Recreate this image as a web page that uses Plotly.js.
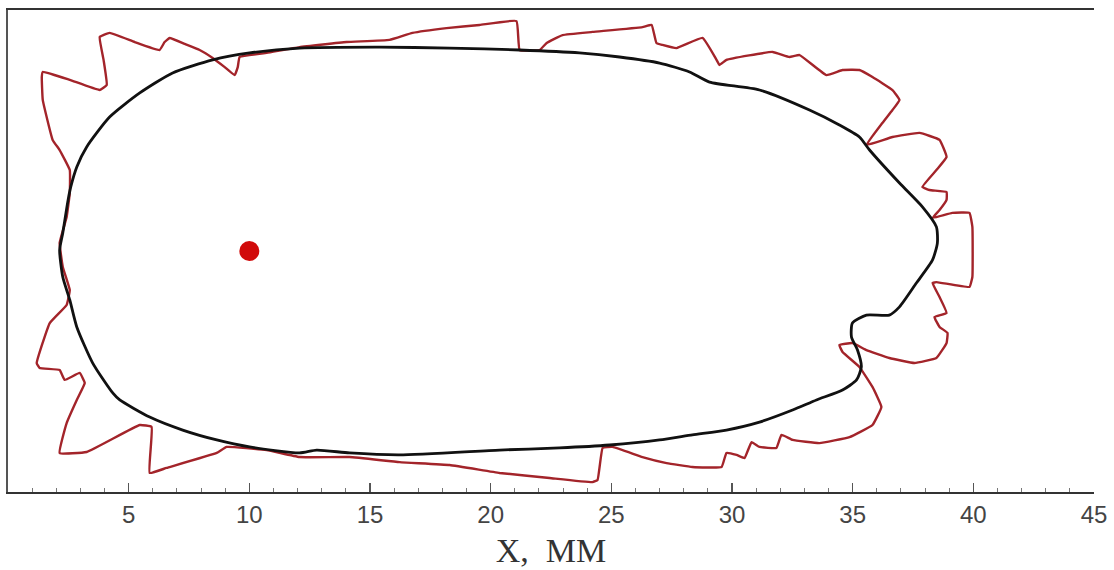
<!DOCTYPE html>
<html>
<head>
<meta charset="utf-8">
<script src="https://cdn.plot.ly/plotly-3.0.1.min.js"></script>
<style>html,body{margin:0;padding:0;background:#fff;}#chart{width:1114px;height:570px;}</style>
</head>
<body>
<div id="chart"></div>
<script>
// Black contour (X, mm ; Y, mm)
const blackX = [2.14,2.27,2.49,2.60,2.85,3.26,4.21,5.46,6.82,8.48,10.01,12.08,15.40,18.30,21.20,23.68,25.34,27.00,28.24,29.07,31.14,33.21,34.45,35.28,35.70,36.94,37.89,38.47,38.51,38.31,37.64,36.94,36.52,35.57,34.99,34.95,35.20,35.36,35.16,34.58,33.50,32.51,31.14,29.77,28.36,27.00,24.93,22.85,20.37,16.23,14.15,12.79,12.08,10.01,8.65,7.24,5.87,4.63,4.34,3.51,2.85,2.56,2.27,2.14];
const blackY = [0.04,0.75,2.12,2.66,3.49,4.32,5.56,6.56,7.39,7.93,8.22,8.42,8.46,8.42,8.34,8.22,8.05,7.80,7.43,7.01,6.68,5.85,5.23,4.73,4.19,2.82,1.83,1.00,0.33,-0.37,-1.33,-2.32,-2.66,-2.66,-2.99,-3.57,-4.11,-4.81,-5.35,-5.77,-6.18,-6.60,-7.10,-7.43,-7.63,-7.84,-8.05,-8.17,-8.26,-8.46,-8.38,-8.26,-8.38,-8.13,-7.84,-7.43,-6.89,-6.18,-5.89,-4.65,-3.15,-2.03,-1.08,0.04];

// Red contour (X, mm ; Y, mm)
const redX = [1.44,2.56,3.80,4.09,3.96,3.80,4.21,5.25,6.28,6.49,6.70,7.32,7.94,8.48,8.98,9.39,9.52,9.60,10.72,12.08,14.03,15.81,16.76,18.17,19.54,21.07,21.20,22.03,22.32,22.98,24.22,26.29,26.67,26.87,27.12,27.70,28.78,29.36,29.48,29.77,31.68,32.38,32.80,33.91,34.58,35.28,35.82,36.65,36.94,36.65,36.23,35.57,36.65,37.77,38.60,38.89,38.47,37.89,38.18,38.89,38.89,38.60,38.31,39.13,39.84,39.96,39.96,39.84,38.47,38.31,38.60,38.89,38.39,38.60,38.93,38.89,38.47,37.56,36.52,35.57,34.99,34.45,34.58,35.28,35.82,36.19,35.82,34.87,33.62,32.51,32.05,31.84,31.14,30.81,30.52,30.19,29.77,29.57,28.36,27.29,26.29,25.05,24.64,24.43,24.22,22.44,20.37,18.30,16.23,14.15,12.08,10.72,9.06,8.65,6.57,5.87,5.95,5.46,3.26,2.14,2.43,2.85,3.18,2.97,2.35,2.14,1.31,1.19,1.73,2.43,2.56,2.27,2.14,2.43,2.56,2.56,2.14,1.85,1.44,1.40,1.44];
const redY = [7.43,7.10,6.68,6.89,7.93,8.88,9.05,8.67,8.34,8.67,8.84,8.59,8.34,8.01,7.63,7.30,7.63,8.05,8.22,8.46,8.67,8.76,9.05,9.25,9.38,9.54,8.34,8.34,8.63,8.96,9.09,9.29,9.38,8.63,8.55,8.42,8.84,7.93,7.72,7.93,8.26,8.05,8.13,7.30,7.51,7.51,7.22,6.68,6.27,5.85,5.31,4.40,4.73,4.90,4.61,3.90,3.36,2.66,2.53,2.45,2.12,1.70,1.37,1.58,1.58,1.00,-1.08,-1.49,-1.29,-1.33,-1.91,-2.57,-2.74,-3.15,-3.40,-3.82,-4.44,-4.65,-4.44,-4.11,-3.82,-3.90,-4.19,-4.81,-5.64,-6.47,-7.22,-7.72,-7.97,-7.84,-7.63,-8.17,-8.13,-7.93,-8.59,-8.46,-8.38,-8.96,-8.96,-8.80,-8.55,-8.13,-8.17,-9.50,-9.59,-9.42,-9.21,-8.88,-8.76,-8.55,-8.55,-8.26,-8.13,-8.38,-9.00,-9.21,-7.30,-7.22,-8.34,-8.38,-7.14,-6.18,-5.48,-5.06,-5.35,-4.94,-4.85,-4.65,-2.99,-2.24,-1.62,-0.66,0.33,1.41,2.41,3.36,4.19,4.61,6.27,7.22,7.43];

// Red point
const dotX = [10];
const dotY = [0];

// Axis ticks
const tickVals = [5,10,15,20,25,30,35,40,45];
const tickText = ["5","10","15","20","25","30","35","40","45"];

const traces = [
  {x: redX, y: redY, type: 'scatter', mode: 'lines',
   line: {color: '#a3242a', width: 2.4, shape: 'spline', smoothing: 0.3}, hoverinfo: 'skip'},
  {x: blackX, y: blackY, type: 'scatter', mode: 'lines',
   line: {color: '#111111', width: 2.8, shape: 'spline', smoothing: 0.6}, hoverinfo: 'skip'},
  {x: dotX, y: dotY, type: 'scatter', mode: 'markers',
   marker: {color: '#d10a0a', size: 20}, hoverinfo: 'skip'}
];

const layout = {
  width: 1114, height: 570,
  margin: {l: 8, r: 20, t: 10, b: 78, pad: 0},
  paper_bgcolor: '#ffffff', plot_bgcolor: '#ffffff',
  showlegend: false,
  xaxis: {
    range: [0, 45], showgrid: false, zeroline: false,
    showline: true, linecolor: '#333333', linewidth: 2, mirror: true,
    ticks: 'inside', ticklen: 9, tickwidth: 1.5, tickcolor: '#555555',
    tickmode: 'array', tickvals: tickVals, ticktext: tickText,
    tickfont: {family: '"Liberation Sans", Arial, sans-serif', size: 24, color: '#444444'},
    minor: {tickmode: 'linear', tick0: 0, dtick: 1, ticks: 'inside', ticklen: 4, tickwidth: 1, tickcolor: '#777777'},
    title: {text: 'X,\u00a0 MM', standoff: 11,
            font: {family: '"Liberation Serif", "Times New Roman", serif', size: 34, color: '#333333'}}
  },
  yaxis: {
    range: [-10, 10], showgrid: false, zeroline: false,
    showline: true, linecolor: '#555555', linewidth: 2, mirror: false,
    ticks: '', showticklabels: false
  }
};

Plotly.newPlot('chart', traces, layout, {staticPlot: true, displayModeBar: false});
</script>
</body>
</html>
